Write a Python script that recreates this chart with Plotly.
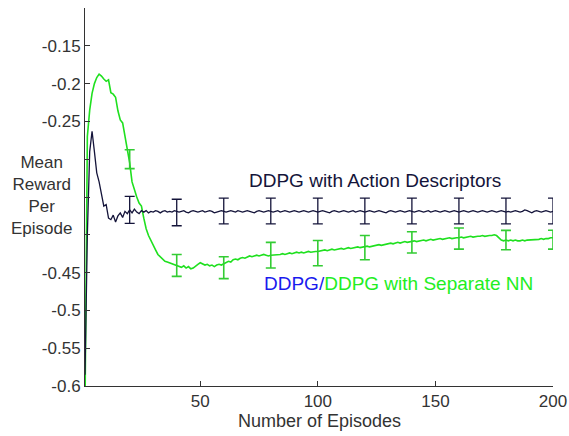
import plotly.graph_objects as go

episodes = list(range(1, 201))

action_desc = [
    -0.585, -0.400, -0.290, -0.263, -0.290, -0.318, -0.330, -0.345, -0.362, -0.360,
    -0.378, -0.380, -0.374, -0.383, -0.375, -0.371, -0.377, -0.369, -0.372, -0.367,
    -0.371, -0.366, -0.370, -0.372, -0.368, -0.370, -0.368, -0.371, -0.369, -0.370,
    -0.368, -0.369, -0.371, -0.369, -0.368, -0.370, -0.369, -0.370, -0.368, -0.369,
    -0.370, -0.369, -0.368, -0.370, -0.371, -0.369, -0.368, -0.369, -0.370, -0.369,
    -0.368, -0.370, -0.369, -0.368, -0.369, -0.371, -0.370, -0.369, -0.368, -0.369,
    -0.370, -0.369, -0.368, -0.369, -0.370, -0.368, -0.369, -0.370, -0.369, -0.368,
    -0.369, -0.370, -0.371, -0.369, -0.368, -0.369, -0.370, -0.369, -0.368, -0.369,
    -0.370, -0.369, -0.368, -0.370, -0.369, -0.368, -0.369, -0.370, -0.369, -0.368,
    -0.369, -0.370, -0.369, -0.368, -0.369, -0.370, -0.369, -0.368, -0.369, -0.370,
    -0.369, -0.368, -0.369, -0.370, -0.371, -0.369, -0.368, -0.369, -0.370, -0.369,
    -0.368, -0.369, -0.370, -0.369, -0.368, -0.370, -0.369, -0.368, -0.369, -0.370,
    -0.369, -0.368, -0.369, -0.370, -0.369, -0.368, -0.369, -0.370, -0.371, -0.369,
    -0.368, -0.369, -0.370, -0.369, -0.368, -0.369, -0.370, -0.369, -0.368, -0.369,
    -0.370, -0.369, -0.368, -0.369, -0.370, -0.369, -0.368, -0.370, -0.369, -0.368,
    -0.369, -0.370, -0.369, -0.368, -0.369, -0.370, -0.369, -0.368, -0.369, -0.370,
    -0.369, -0.368, -0.369, -0.370, -0.369, -0.368, -0.369, -0.370, -0.369, -0.368,
    -0.369, -0.370, -0.369, -0.368, -0.369, -0.370, -0.369, -0.368, -0.369, -0.370,
    -0.369, -0.370, -0.369, -0.368, -0.369, -0.370, -0.369, -0.367, -0.368, -0.370,
    -0.371, -0.369, -0.368, -0.369, -0.370, -0.369, -0.368, -0.369, -0.370, -0.369,
]

separate_nn = [
    -0.630, -0.270, -0.235, -0.213, -0.200, -0.192, -0.1875, -0.190, -0.194, -0.197,
    -0.195, -0.212, -0.214, -0.218, -0.236, -0.248, -0.252, -0.268, -0.286, -0.305,
    -0.330, -0.341, -0.350, -0.358, -0.362, -0.378, -0.392, -0.401, -0.408, -0.415,
    -0.420, -0.426, -0.429, -0.432, -0.435, -0.436, -0.437, -0.439, -0.440, -0.441,
    -0.442, -0.443, -0.441, -0.444, -0.442, -0.445, -0.444, -0.441, -0.439, -0.437,
    -0.438, -0.440, -0.439, -0.441, -0.440, -0.442, -0.440, -0.439, -0.440, -0.438,
    -0.437, -0.435, -0.436, -0.433, -0.432, -0.433, -0.431, -0.430, -0.431, -0.429,
    -0.428, -0.429, -0.428, -0.427, -0.428, -0.427, -0.426, -0.427, -0.428, -0.427,
    -0.427, -0.426, -0.427, -0.426, -0.425, -0.426, -0.425, -0.424, -0.425, -0.424,
    -0.423, -0.424, -0.423, -0.424, -0.423, -0.422, -0.423, -0.422, -0.422, -0.422,
    -0.421, -0.421, -0.420, -0.421, -0.420, -0.419, -0.420, -0.419, -0.419, -0.418,
    -0.419, -0.418, -0.417, -0.418, -0.417, -0.417, -0.416, -0.417, -0.416, -0.416,
    -0.415, -0.416, -0.415, -0.414, -0.414, -0.413, -0.414, -0.413, -0.412, -0.412,
    -0.411, -0.412, -0.411, -0.410, -0.411, -0.410, -0.409, -0.410, -0.409, -0.409,
    -0.408, -0.409, -0.408, -0.408, -0.407, -0.408, -0.407, -0.406, -0.407, -0.406,
    -0.406, -0.405, -0.406, -0.405, -0.405, -0.404, -0.405, -0.404, -0.404, -0.404,
    -0.403, -0.404, -0.403, -0.403, -0.402, -0.403, -0.402, -0.402, -0.402, -0.401,
    -0.402, -0.401, -0.401, -0.401, -0.400, -0.401, -0.404, -0.407, -0.408, -0.407,
    -0.408, -0.407, -0.408, -0.407, -0.408, -0.408, -0.407, -0.408, -0.407, -0.407,
    -0.406, -0.407, -0.406, -0.406, -0.405, -0.406, -0.405, -0.405, -0.404, -0.404,
]

err_x = [20, 40, 60, 80, 100, 120, 140, 160, 180, 200]
action_err_mid = [-0.367, -0.3705, -0.3685, -0.3685, -0.3685, -0.3685, -0.3685, -0.3685, -0.3685, -0.3685]
action_err = [0.0178, 0.0175, 0.017, 0.017, 0.017, 0.017, 0.017, 0.017, 0.017, 0.017]
sep_err_mid = [-0.300, -0.4405, -0.4435, -0.427, -0.4243, -0.417, -0.410, -0.405, -0.407, -0.4065]
sep_err = [0.0125, 0.0145, 0.0145, 0.017, 0.0167, 0.016, 0.014, 0.014, 0.0128, 0.0125]

y_ticks = [-0.6, -0.55, -0.5, -0.45, -0.4, -0.35, -0.3, -0.25, -0.2, -0.15]
y_tick_text = ["-0.6", "-0.55", "-0.5", "-0.45", "", "", "", "-0.25", "-0.2", "-0.15"]
x_ticks = [50, 100, 150, 200]

navy = "#14143a"
green = "#1fe01f"
green_err = "#33cc33"
blue = "#1a1aee"
font = "Liberation Sans, Arial, sans-serif"

fig = go.Figure()
fig.add_trace(go.Scatter(x=episodes, y=separate_nn, mode="lines",
                         line=dict(color=green, width=1.6), showlegend=False))
fig.add_trace(go.Scatter(x=episodes, y=action_desc, mode="lines",
                         line=dict(color=navy, width=1.3), showlegend=False))
fig.add_trace(go.Scatter(x=err_x, y=sep_err_mid, mode="markers",
                         marker=dict(size=1, opacity=0),
                         error_y=dict(type="data", array=sep_err, color=green_err,
                                      thickness=1.6, width=5),
                         showlegend=False, cliponaxis=False))
fig.add_trace(go.Scatter(x=err_x, y=action_err_mid, mode="markers",
                         marker=dict(size=1, opacity=0),
                         error_y=dict(type="data", array=action_err, color=navy,
                                      thickness=1.3, width=5),
                         showlegend=False, cliponaxis=False))

fig.update_layout(
    width=569, height=436,
    margin=dict(l=85, r=16, t=8, b=50, autoexpand=False),
    paper_bgcolor="white", plot_bgcolor="white",
    font=dict(family=font, size=17, color="#333333"),
    xaxis=dict(range=[1, 200], tickvals=x_ticks, ticks="inside", ticklen=5,
               tickcolor="#333333", showline=True, linecolor="#333333", linewidth=1,
               showgrid=False, zeroline=False, tickfont=dict(size=17), automargin=False,
               ticklabeloverflow="allow"),
    yaxis=dict(range=[-0.6, -0.1], tickvals=y_ticks, ticktext=y_tick_text,
               ticks="inside", ticklen=5, tickcolor="#333333", showline=True,
               linecolor="#333333", linewidth=1, showgrid=False, zeroline=False,
               tickfont=dict(size=17), automargin=False, ticklabeloverflow="allow"),
    annotations=[
        dict(text="Mean<br>Reward<br>Per<br>Episode", xref="paper", yref="paper",
             x=-0.092, y=0.504, xanchor="center", yanchor="middle", showarrow=False,
             font=dict(size=17, color="#333333")),
        dict(text="Number of Episodes", xref="paper", yref="paper",
             x=0.5, y=-0.093, xanchor="center", yanchor="middle", showarrow=False,
             font=dict(size=18, color="#333333")),
        dict(text="DDPG with Action Descriptors", xref="x", yref="y",
             x=124.2, y=-0.3285, xanchor="center", yanchor="middle", showarrow=False,
             font=dict(size=19, color=navy)),
        dict(text=f'<span style="color:{blue}">DDPG/</span><span style="color:#22ee22">DDPG with Separate NN</span>',
             xref="x", yref="y", x=134.4, y=-0.4638, xanchor="center", yanchor="middle",
             showarrow=False, font=dict(size=19, color=green)),
    ],
)

fig.write_html("out.html", config={"displayModeBar": False},
               post_script="document.body.style.margin='0';document.body.style.overflow='hidden';")
